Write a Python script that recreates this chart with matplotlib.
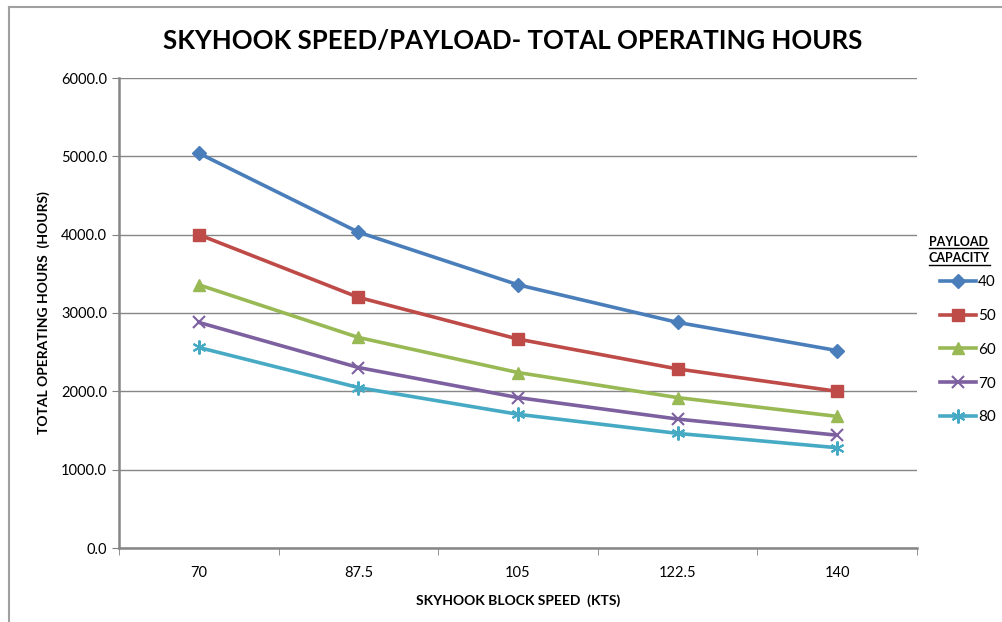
import matplotlib.pyplot as plt
from matplotlib.lines import Line2D

plt.rcParams["font.family"] = ["Lato", "DejaVu Sans"]

speeds = ["70", "87.5", "105", "122.5", "140"]
payloads = ["40", "50", "60", "70", "80"]
hours_40 = [5040.0, 4032.0, 3360.0, 2880.0, 2520.0]
hours_50 = [4000.0, 3200.0, 2667.0, 2286.0, 2000.0]
hours_60 = [3360.0, 2688.0, 2240.0, 1920.0, 1680.0]
hours_70 = [2880.0, 2304.0, 1920.0, 1646.0, 1440.0]
hours_80 = [2560.0, 2048.0, 1707.0, 1463.0, 1280.0]
series = [hours_40, hours_50, hours_60, hours_70, hours_80]

colors = ["#4A7EBB", "#BE4B48", "#98B954", "#7D60A0", "#46AAC5"]
markers = ["D", "s", "^", "x", (6, 2, 0)]
msizes = [7, 9, 9, 9, 10]

W, H = 1003, 622
fig = plt.figure(figsize=(W / 100, H / 100), dpi=100)
ax = fig.add_axes([119 / W, 1 - 548 / H, (917 - 119) / W, (548 - 78) / H])

x = list(range(len(speeds)))
handles = []
for vals, c, m, ms, lab in zip(series, colors, markers, msizes, payloads):
    (h,) = ax.plot(x, vals, color=c, linewidth=2.6, marker=m, markersize=ms,
                   markeredgewidth=1.5 if m in ("x", (6, 2, 0)) else 1,
                   markeredgecolor=c, label=lab, zorder=3)
    handles.append(h)

ax.set_xlim(-0.5, len(speeds) - 0.5)
ax.set_ylim(0, 6000)
ax.set_xticks(x)
ax.set_xticklabels(speeds, fontsize=10.5)
ax.set_xticks([i - 0.5 for i in range(len(speeds) + 1)], minor=True)
ax.tick_params(axis="x", which="major", length=0, pad=13)
ax.tick_params(axis="x", which="minor", length=5, color="#808080", direction="out")
ax.set_yticks(range(0, 6001, 1000))
ax.set_yticklabels([f"{v:.1f}" for v in range(0, 6001, 1000)], fontsize=10.5)
ax.tick_params(axis="y", length=5, color="#808080", direction="out")
ax.grid(axis="y", color="#868686", linewidth=1)
ax.set_axisbelow(True)
for s in ("top", "right"):
    ax.spines[s].set_visible(False)
for s in ("left", "bottom"):
    ax.spines[s].set_color("#868686")
    ax.spines[s].set_linewidth(1.8)

ax.set_xlabel("SKYHOOK BLOCK SPEED  (KTS)", fontsize=10, fontweight="bold", labelpad=10)
ax.set_ylabel("TOTAL OPERATING HOURS  (HOURS)", fontsize=10, fontweight="bold", labelpad=8)

fig.text(0.511, 1 - 41 / H, "SKYHOOK SPEED/PAYLOAD- TOTAL OPERATING HOURS",
         ha="center", va="center", fontsize=18.5, fontweight="bold")

leg = fig.legend(handles=handles, labels=payloads, loc="upper left",
                 bbox_to_anchor=(940 / W, 1 - 275 / H), frameon=False, fontsize=11,
                 handlelength=2.35, handletextpad=0.15, labelspacing=1.3,
                 borderaxespad=0, borderpad=0)

# legend title with underline
fig.canvas.draw()
r = fig.canvas.get_renderer()
for word, ybase in (("PAYLOAD", 246), ("CAPACITY", 262)):
    t = fig.text(929 / W, 1 - ybase / H, word, ha="left", va="baseline",
                 fontsize=9, fontweight="bold")
    bb = t.get_window_extent(renderer=r).transformed(fig.transFigure.inverted())
    yl = 1 - (ybase + 2.5) / H
    fig.add_artist(Line2D([bb.x0, bb.x1], [yl, yl], color="black",
                          linewidth=1, transform=fig.transFigure))

# chart frame (cropped)
fig.add_artist(Line2D([9 / W, 1], [1 - 7 / H, 1 - 7 / H], color="#A0A0A0",
                      linewidth=1.5, transform=fig.transFigure))
fig.add_artist(Line2D([9 / W, 9 / W], [0, 1 - 7 / H], color="#A0A0A0",
                      linewidth=1.5, transform=fig.transFigure))

fig.savefig("out.png", dpi=100)
